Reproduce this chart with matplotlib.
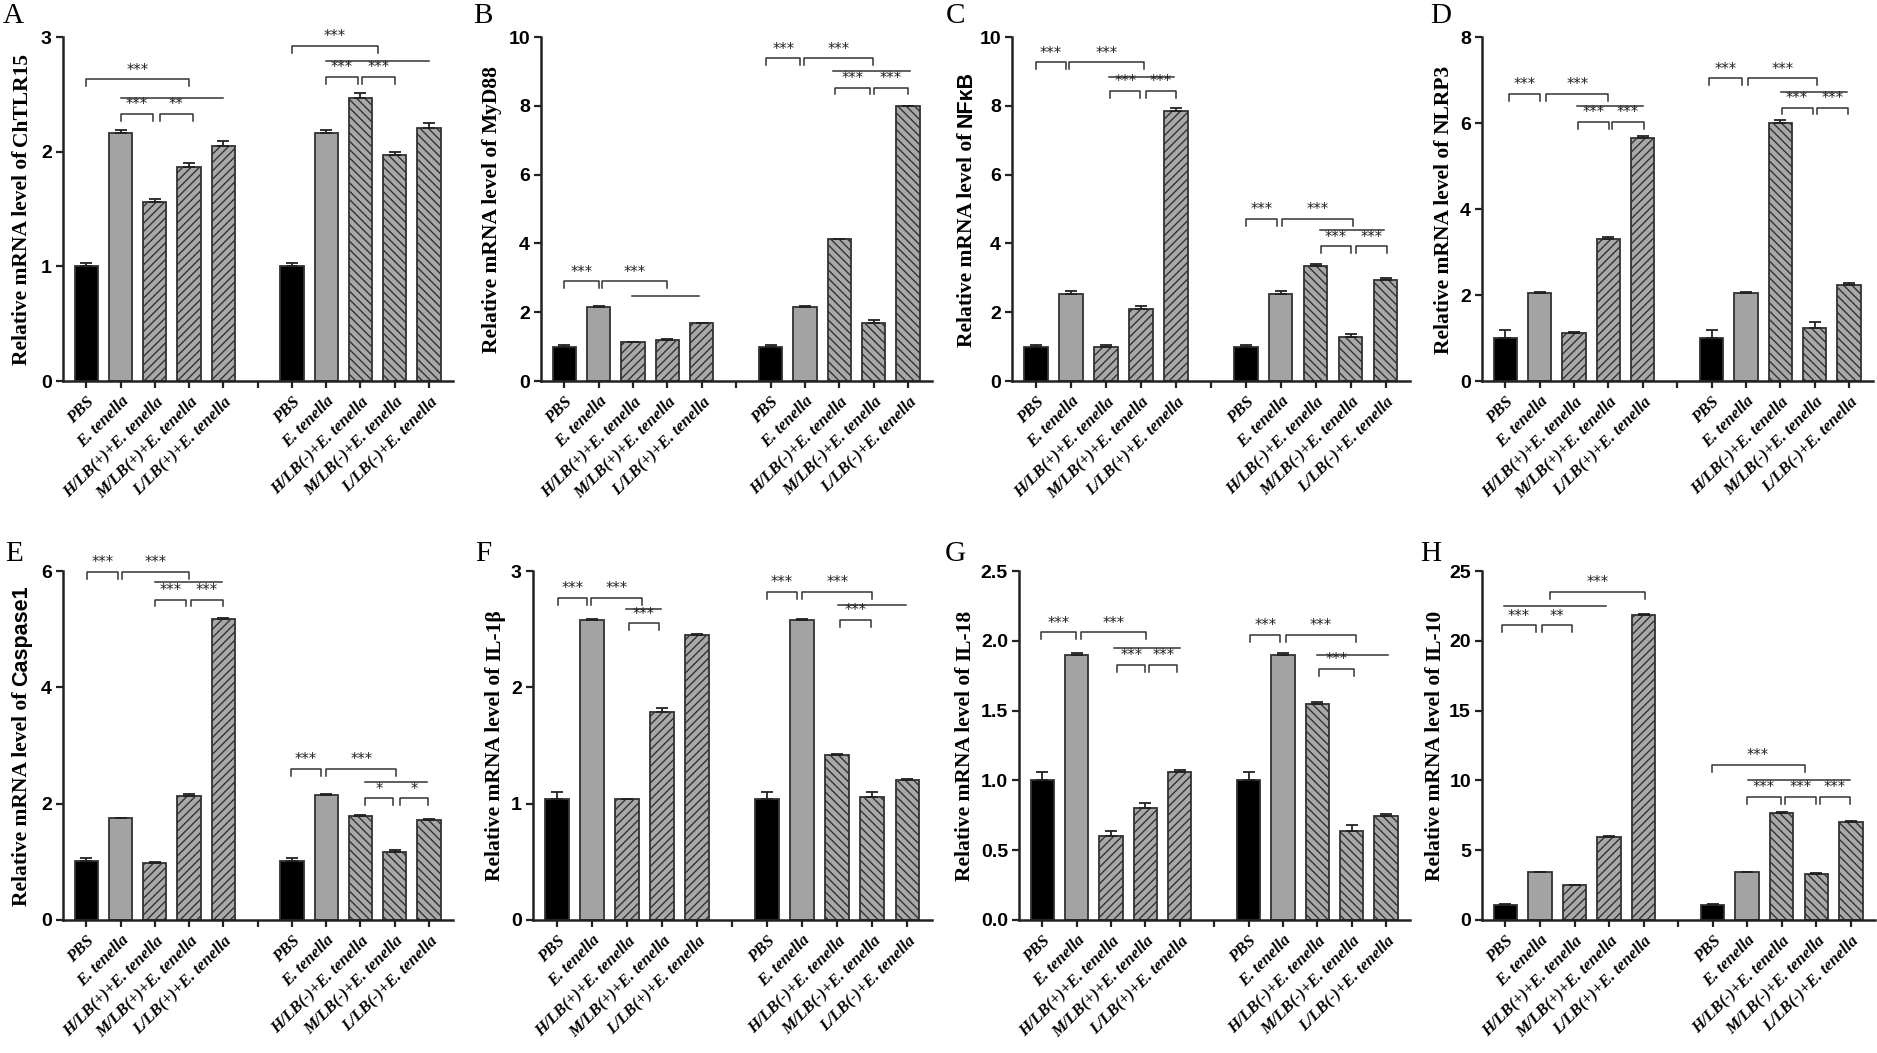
import numpy as np
import matplotlib.pyplot as plt

# x categories (two groups of five, gap at position 5)
xlabels = ["PBS", "E. tenella", "H/LB(+)+E. tenella", "M/LB(+)+E. tenella", "L/LB(+)+E. tenella",
           "PBS", "E. tenella", "H/LB(-)+E. tenella", "M/LB(-)+E. tenella", "L/LB(-)+E. tenella"]
pos = [0, 1, 2, 3, 4, 6, 7, 8, 9, 10]

# mean values and SEM
tlr15 = [1.00, 2.16, 1.56, 1.87, 2.05, 1.00, 2.16, 2.47, 1.97, 2.21]
tlr15_err = [0.03, 0.03, 0.03, 0.03, 0.04, 0.03, 0.03, 0.04, 0.03, 0.04]
myd88 = [1.00, 2.15, 1.12, 1.20, 1.68, 1.00, 2.15, 4.12, 1.70, 7.98]
myd88_err = [0.05, 0.02, 0.01, 0.02, 0.01, 0.05, 0.02, 0.01, 0.08, 0.01]
nfkb = [1.00, 2.52, 1.00, 2.10, 7.86, 1.00, 2.52, 3.35, 1.27, 2.93]
nfkb_err = [0.05, 0.09, 0.05, 0.09, 0.08, 0.05, 0.09, 0.06, 0.10, 0.05]
nlrp3 = [1.01, 2.05, 1.12, 3.30, 5.64, 1.01, 2.05, 6.01, 1.23, 2.23]
nlrp3_err = [0.17, 0.01, 0.01, 0.06, 0.05, 0.17, 0.01, 0.06, 0.14, 0.04]
casp1 = [1.01, 1.75, 0.98, 2.14, 5.18, 1.01, 2.15, 1.79, 1.17, 1.72]
casp1_err = [0.06, 0.01, 0.01, 0.03, 0.01, 0.06, 0.01, 0.01, 0.03, 0.01]
il1b = [1.04, 2.58, 1.04, 1.79, 2.45, 1.04, 2.58, 1.42, 1.06, 1.20]
il1b_err = [0.06, 0.01, 0.0, 0.03, 0.01, 0.06, 0.01, 0.01, 0.04, 0.01]
il18 = [1.00, 1.90, 0.60, 0.80, 1.06, 1.00, 1.90, 1.55, 0.64, 0.745]
il18_err = [0.06, 0.015, 0.035, 0.035, 0.015, 0.06, 0.015, 0.015, 0.04, 0.015]
il10 = [1.05, 3.43, 2.48, 5.98, 21.88, 1.05, 3.43, 7.67, 3.33, 7.02]
il10_err = [0.10, 0.03, 0.03, 0.03, 0.05, 0.10, 0.03, 0.05, 0.05, 0.05]

# significance brackets: (x1, x2, y, stars); stars None = plain line
br_tlr15 = [(0, 3, 2.63, '***'), (1, 4, 2.47, None), (1, 1.95, 2.33, '***'), (2.15, 3.1, 2.33, '**'),
            (6, 8.5, 2.92, '***'), (7, 10, 2.79, None), (7, 7.92, 2.65, '***'), (8.04, 9.0, 2.65, '***')]
br_myd88 = [(0, 1, 2.9, '***'), (1.1, 3.0, 2.9, '***'), (1.96, 3.93, 2.47, None),
            (5.87, 6.87, 9.38, '***'), (6.97, 8.97, 9.38, '***'), (7.81, 10.05, 9.01, None),
            (7.88, 8.9, 8.53, '***'), (9.0, 10.0, 8.53, '***')]
br_nfkb = [(0, 0.85, 9.26, '***'), (0.95, 3.1, 9.26, '***'), (2.1, 3.96, 8.84, None),
           (2.13, 2.98, 8.43, '***'), (3.15, 4.0, 8.43, '***'),
           (6.02, 6.9, 4.71, '***'), (7.04, 9.07, 4.71, '***'), (8.13, 9.97, 4.38, None),
           (8.16, 9.0, 3.91, '***'), (9.17, 10.05, 3.91, '***')]
br_nlrp3 = [(0.1, 1.02, 6.68, '***'), (1.19, 3.0, 6.68, '***'), (2.09, 4.01, 6.4, None),
            (2.12, 3.01, 6.03, '***'), (3.11, 4.03, 6.03, '***'),
            (5.94, 6.9, 7.04, '***'), (7.07, 9.08, 7.04, '***'), (8.01, 9.95, 6.72, None),
            (8.04, 8.94, 6.36, '***'), (9.08, 9.96, 6.36, '***')]
br_casp1 = [(0.03, 0.92, 5.99, '***'), (1.05, 3.01, 5.99, '***'), (2.0, 3.96, 5.81, None),
            (1.99, 2.91, 5.51, '***'), (3.06, 3.98, 5.51, '***'),
            (5.98, 6.84, 2.6, '***'), (7.0, 9.04, 2.6, '***'), (8.14, 9.93, 2.38, None),
            (8.12, 8.96, 2.09, '*'), (9.14, 9.98, 2.09, '*')]
br_il1b = [(0.02, 0.87, 2.77, '***'), (0.97, 2.43, 2.77, '***'), (1.97, 2.98, 2.67, None),
           (2.06, 2.91, 2.55, '***'),
           (5.99, 6.85, 2.82, '***'), (6.99, 9.0, 2.82, '***'), (8.01, 9.97, 2.71, None),
           (8.08, 8.95, 2.58, '***')]
br_il18 = [(-0.05, 0.97, 2.06, '***'), (1.11, 3.03, 2.06, '***'), (2.09, 4.0, 1.95, None),
           (2.18, 2.99, 1.83, '***'), (3.1, 3.93, 1.83, '***'),
           (6.05, 6.92, 2.04, '***'), (7.08, 9.13, 2.04, '***'), (8.0, 10.05, 1.9, None),
           (8.05, 9.07, 1.8, '***')]
br_il10 = [(-0.1, 0.89, 21.1, '***'), (1.05, 1.92, 21.1, '**'), (-0.05, 2.91, 22.48, None),
           (1.28, 4.03, 23.5, '***'),
           (5.97, 8.66, 11.12, '***'), (7.02, 9.97, 10.0, None), (6.99, 7.98, 8.81, '***'),
           (8.08, 9.0, 8.81, '***'), (9.11, 9.97, 8.81, '***')]

W, H = 1877, 1053
SERIF = 'Liberation Serif'
SANS = 'Liberation Sans'
DARK = '#333333'

plt.rcParams['hatch.linewidth'] = 1.0

fig = plt.figure(figsize=(W / 100, H / 100), dpi=100)
renderer = fig.canvas.get_renderer()

colors = ['black', '#a3a3a3', '#a8a8a8', '#a8a8a8', '#a8a8a8',
          'black', '#a3a3a3', '#a8a8a8', '#a8a8a8', '#a8a8a8']
hatches = [None, None, '////', '////', '////',
           None, None, '\\\\\\\\', '\\\\\\\\', '\\\\\\\\']

panels = [
    # letter, gene, gene font, values, err, brackets, ymax, yticks, axes box (l, t, r, b px), ylabel x, letter xy
    ('A', 'ChTLR15', SERIF, tlr15, tlr15_err, br_tlr15, 3, [0, 1, 2, 3], (63, 37, 453, 381), 20, (3, 3)),
    ('B', 'MyD88', SERIF, myd88, myd88_err, br_myd88, 10, [0, 2, 4, 6, 8, 10], (541, 37, 932, 381), 490, (473, 3)),
    ('C', 'NFκB', SANS, nfkb, nfkb_err, br_nfkb, 10, [0, 2, 4, 6, 8, 10], (1012, 37, 1410, 381), 965, (946, 3)),
    ('D', 'NLRP3', SERIF, nlrp3, nlrp3_err, br_nlrp3, 8, [0, 2, 4, 6, 8], (1482, 37, 1873, 381), 1442, (1430, 3)),
    ('E', 'Caspase1', SANS, casp1, casp1_err, br_casp1, 6, [0, 2, 4, 6], (63, 571, 453, 920), 20, (5, 541)),
    ('F', 'IL-1β', SERIF, il1b, il1b_err, br_il1b, 3, [0, 1, 2, 3], (533, 571, 932, 920), 493, (475, 541)),
    ('G', 'IL-18', SERIF, il18, il18_err, br_il18, 2.5, [0, 0.5, 1.0, 1.5, 2.0, 2.5], (1019, 571, 1410, 920), 963, (945, 541)),
    ('H', 'IL-10', SERIF, il10, il10_err, br_il10, 25, [0, 5, 10, 15, 20, 25], (1482, 571, 1875, 920), 1433, (1420, 541)),
]

for letter, gene, gfont, vals, err, brs, ymax, yticks, box, ylx, lxy in panels:
    l, t, r, b = box
    ax = fig.add_axes([l / W, 1 - b / H, (r - l) / W, (b - t) / H])

    bars = ax.bar(pos, vals, width=0.68, color=colors, edgecolor=DARK, linewidth=1.3, zorder=2)
    for patch, h in zip(bars, hatches):
        if h:
            patch.set_hatch(h)
    ax.errorbar(pos, vals, yerr=[np.zeros(len(err)), err], fmt='none', ecolor='#222222',
                elinewidth=1.3, capsize=4, capthick=1.3, zorder=3)

    leg = 0.02 * ymax
    for x1, x2, y, s in brs:
        if s is None:
            ax.plot([x1, x2], [y, y], color=DARK, lw=1.1, clip_on=False)
        else:
            ax.plot([x1, x1, x2, x2], [y - leg, y, y, y - leg], color=DARK, lw=1.1, clip_on=False)
            ax.text((x1 + x2) / 2, y + 0.005 * ymax, s, ha='center', va='bottom',
                    fontsize=10.5, color='#222222', family='DejaVu Sans')

    ax.set_xlim(-0.68, 10.7)
    ax.set_ylim(0, ymax)
    ax.set_yticks(yticks)
    if ymax == 2.5:
        ax.set_yticklabels(['%.1f' % v for v in yticks])
    ax.set_xticks(list(range(11)))
    ax.set_xticklabels(xlabels[:5] + [''] + xlabels[5:])
    for lab in ax.get_yticklabels():
        lab.set_family(SANS)
        lab.set_fontweight('bold')
        lab.set_fontsize(14)
    for lab in ax.get_xticklabels():
        lab.set_family(SERIF)
        lab.set_fontweight('bold')
        lab.set_fontstyle('italic')
        lab.set_fontsize(12)
        lab.set_rotation(45)
        lab.set_ha('right')
        lab.set_rotation_mode('anchor')
    ax.tick_params(axis='both', direction='out', length=5, width=1.6, color='#222222', pad=3)
    ax.tick_params(axis='x', pad=4)
    for side in ['top', 'right']:
        ax.spines[side].set_visible(False)
    for side in ['left', 'bottom']:
        ax.spines[side].set_linewidth(1.8)
        ax.spines[side].set_color('#222222')

    # y label: serif prefix, gene name in its own font, laid out along one baseline
    kw = dict(rotation=90, rotation_mode='anchor', ha='left', va='baseline',
              fontweight='bold', fontsize=15.5)
    part1 = fig.text(0, 0, 'Relative mRNA level of', family=SERIF, **kw)
    part2 = fig.text(0, 0, gene, family=gfont, **kw)
    len1 = part1.get_window_extent(renderer).height
    len2 = part2.get_window_extent(renderer).height
    gap = 5.5
    total = len1 + gap + len2
    base_x = ylx + 7
    y0 = H - (t + b) / 2 - total / 2
    part1.set_position((base_x / W, y0 / H))
    part2.set_position((base_x / W, (y0 + len1 + gap) / H))

    fig.text(lxy[0] / W, 1 - lxy[1] / H, letter, ha='left', va='top', family=SERIF, fontsize=21)

fig.savefig('out.png', dpi=100)
